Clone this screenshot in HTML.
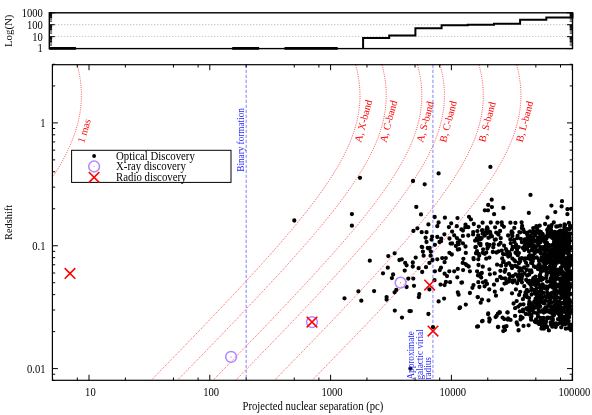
<!DOCTYPE html>
<html><head><meta charset="utf-8"><title>plot</title>
<style>html,body{margin:0;padding:0;background:#fff}svg{display:block}text{font-family:"Liberation Serif",serif;font-size:10.6px;fill:#000}.r{fill:#f00}.b{fill:#2828ff}</style></head><body>
<svg width="592" height="415" viewBox="0 0 592 415">
<rect width="592" height="415" fill="#fff"/>
<g style="opacity:0.999">
<line x1="49.3" y1="36.7" x2="572.5" y2="36.7" stroke="#000" stroke-width="0.6" stroke-dasharray="1 2" opacity="0.6"/>
<line x1="49.3" y1="24.7" x2="572.5" y2="24.7" stroke="#000" stroke-width="0.6" stroke-dasharray="1 2" opacity="0.6"/>
<line x1="49.3" y1="48.4" x2="572.5" y2="48.4" stroke="#000" stroke-width="0.6" stroke-dasharray="1 2" opacity="0.6"/>
<path d="M49.3 48.60h5.5M572.5 48.60h-5.5M49.3 45.01h2.8M572.5 45.01h-2.8M49.3 42.91h2.8M572.5 42.91h-2.8M49.3 41.42h2.8M572.5 41.42h-2.8M49.3 40.26h2.8M572.5 40.26h-2.8M49.3 39.31h2.8M572.5 39.31h-2.8M49.3 38.52h2.8M572.5 38.52h-2.8M49.3 37.82h2.8M572.5 37.82h-2.8M49.3 37.21h2.8M572.5 37.21h-2.8M49.3 36.67h5.5M572.5 36.67h-5.5M49.3 33.07h2.8M572.5 33.07h-2.8M49.3 30.97h2.8M572.5 30.97h-2.8M49.3 29.48h2.8M572.5 29.48h-2.8M49.3 28.33h2.8M572.5 28.33h-2.8M49.3 27.38h2.8M572.5 27.38h-2.8M49.3 26.58h2.8M572.5 26.58h-2.8M49.3 25.89h2.8M572.5 25.89h-2.8M49.3 25.28h2.8M572.5 25.28h-2.8M49.3 24.73h5.5M572.5 24.73h-5.5M49.3 21.14h2.8M572.5 21.14h-2.8M49.3 19.04h2.8M572.5 19.04h-2.8M49.3 17.55h2.8M572.5 17.55h-2.8M49.3 16.39h2.8M572.5 16.39h-2.8M49.3 15.45h2.8M572.5 15.45h-2.8M49.3 14.65h2.8M572.5 14.65h-2.8M49.3 13.96h2.8M572.5 13.96h-2.8M49.3 13.35h2.8M572.5 13.35h-2.8M49.3 12.80h6M572.5 12.80h-6" stroke="#000" stroke-width="1" fill="none"/>
<rect x="49.3" y="12.8" width="523.2" height="35.8" fill="none" stroke="#000" stroke-width="1.4"/>
<path d="M49.3 48.1H75.9M49.3 48.7H75.9M232.2 48.1H259.1M232.2 48.7H259.1M284.5 48.1H311.5M284.5 48.7H311.5M310.7 48.1H337.7M310.7 48.7H337.7M363.1 48.6V38.0H389.2V35.4H415.4V28.2H441.6V25.2H467.8V24.7H494.0V23.8H520.1V19.8H546.3V17.6H572.5V12.8" stroke="#000" stroke-width="2" fill="none" stroke-linejoin="miter"/>
<text text-anchor="end" transform="translate(42.9 52.4) scale(0.91 1)" style="font-size:11.66px">1</text>
<text text-anchor="end" transform="translate(42.9 40.5) scale(0.91 1)" style="font-size:11.66px">10</text>
<text text-anchor="end" transform="translate(42.9 28.5) scale(0.91 1)" style="font-size:11.66px">100</text>
<text text-anchor="end" transform="translate(42.9 16.6) scale(0.91 1)" style="font-size:11.66px">1000</text>
<text text-anchor="middle" transform="translate(11.7 30.8) rotate(-90) scale(1.03 1)" style="font-size:10.50px">Log(N)</text>
<clipPath id="c"><rect x="52.4" y="64.7" width="520.1" height="315.6"/></clipPath>
<path d="M151.0 380.5L154.5 377.0L157.9 373.4L161.4 369.8L164.8 366.3L168.3 362.7L171.7 359.2L175.2 355.6L178.6 352.1L182.0 348.5L185.5 345.0L188.9 341.4L192.3 337.9L195.7 334.3L199.2 330.8L202.6 327.2L206.0 323.7L209.4 320.1L212.7 316.6L216.1 313.0L219.5 309.4L222.9 305.9L226.2 302.3L229.6 298.8L232.9 295.2L236.2 291.7L239.6 288.1L242.9 284.6L246.2 281.0L249.4 277.5L252.7 273.9L256.0 270.4L259.2 266.8L262.4 263.3L265.6 259.7L268.8 256.1L272.0 252.6L275.1 249.0L278.2 245.5L281.3 241.9L284.4 238.4L287.4 234.8L290.4 231.3L293.4 227.7L296.3 224.2L299.3 220.6L302.1 217.1L305.0 213.5L307.8 210.0L310.5 206.4L313.2 202.9L315.9 199.3L318.5 195.7L321.1 192.2L323.6 188.6L326.0 185.1L328.4 181.5L330.7 178.0L333.0 174.4L335.2 170.9L337.3 167.3L339.4 163.8L341.3 160.2L343.2 156.7L345.0 153.1L346.7 149.6L348.3 146.0L349.9 142.5L351.3 138.9L352.6 135.3L353.9 131.8L355.0 128.2L356.0 124.7L356.9 121.1L357.7 117.6L358.3 114.0L358.9 110.5L359.3 106.9L359.7 103.4L359.9 99.8L360.0 96.3L359.9 92.7L359.8 89.2L359.5 85.6L359.1 82.1L358.6 78.5L358.0 74.9L357.3 71.4L356.5 67.8L355.6 64.3M177.3 380.5L180.7 377.0L184.2 373.4L187.6 369.8L191.1 366.3L194.5 362.7L198.0 359.2L201.4 355.6L204.9 352.1L208.3 348.5L211.7 345.0L215.2 341.4L218.6 337.9L222.0 334.3L225.4 330.8L228.8 327.2L232.2 323.7L235.6 320.1L239.0 316.6L242.4 313.0L245.8 309.4L249.1 305.9L252.5 302.3L255.8 298.8L259.2 295.2L262.5 291.7L265.8 288.1L269.1 284.6L272.4 281.0L275.7 277.5L279.0 273.9L282.2 270.4L285.5 266.8L288.7 263.3L291.9 259.7L295.1 256.1L298.2 252.6L301.4 249.0L304.5 245.5L307.6 241.9L310.6 238.4L313.7 234.8L316.7 231.3L319.7 227.7L322.6 224.2L325.5 220.6L328.4 217.1L331.2 213.5L334.0 210.0L336.8 206.4L339.5 202.9L342.2 199.3L344.8 195.7L347.3 192.2L349.9 188.6L352.3 185.1L354.7 181.5L357.0 178.0L359.3 174.4L361.5 170.9L363.6 167.3L365.6 163.8L367.6 160.2L369.5 156.7L371.3 153.1L373.0 149.6L374.6 146.0L376.1 142.5L377.6 138.9L378.9 135.3L380.1 131.8L381.2 128.2L382.3 124.7L383.2 121.1L383.9 117.6L384.6 114.0L385.2 110.5L385.6 106.9L385.9 103.4L386.1 99.8L386.2 96.3L386.2 92.7L386.1 89.2L385.8 85.6L385.4 82.1L384.9 78.5L384.3 74.9L383.6 71.4L382.8 67.8L381.8 64.3M212.8 380.5L216.3 377.0L219.8 373.4L223.2 369.8L226.7 366.3L230.1 362.7L233.6 359.2L237.0 355.6L240.4 352.1L243.9 348.5L247.3 345.0L250.7 341.4L254.2 337.9L257.6 334.3L261.0 330.8L264.4 327.2L267.8 323.7L271.2 320.1L274.6 316.6L278.0 313.0L281.3 309.4L284.7 305.9L288.1 302.3L291.4 298.8L294.8 295.2L298.1 291.7L301.4 288.1L304.7 284.6L308.0 281.0L311.3 277.5L314.5 273.9L317.8 270.4L321.0 266.8L324.2 263.3L327.4 259.7L330.6 256.1L333.8 252.6L336.9 249.0L340.0 245.5L343.1 241.9L346.2 238.4L349.2 234.8L352.3 231.3L355.2 227.7L358.2 224.2L361.1 220.6L364.0 217.1L366.8 213.5L369.6 210.0L372.4 206.4L375.1 202.9L377.7 199.3L380.3 195.7L382.9 192.2L385.4 188.6L387.9 185.1L390.3 181.5L392.6 178.0L394.8 174.4L397.0 170.9L399.2 167.3L401.2 163.8L403.2 160.2L405.1 156.7L406.8 153.1L408.6 149.6L410.2 146.0L411.7 142.5L413.1 138.9L414.5 135.3L415.7 131.8L416.8 128.2L417.8 124.7L418.7 121.1L419.5 117.6L420.2 114.0L420.7 110.5L421.2 106.9L421.5 103.4L421.7 99.8L421.8 96.3L421.8 92.7L421.6 89.2L421.4 85.6L421.0 82.1L420.5 78.5L419.9 74.9L419.1 71.4L418.3 67.8L417.4 64.3M235.4 380.5L238.9 377.0L242.4 373.4L245.8 369.8L249.3 366.3L252.7 362.7L256.2 359.2L259.6 355.6L263.0 352.1L266.5 348.5L269.9 345.0L273.3 341.4L276.8 337.9L280.2 334.3L283.6 330.8L287.0 327.2L290.4 323.7L293.8 320.1L297.2 316.6L300.6 313.0L303.9 309.4L307.3 305.9L310.7 302.3L314.0 298.8L317.4 295.2L320.7 291.7L324.0 288.1L327.3 284.6L330.6 281.0L333.9 277.5L337.1 273.9L340.4 270.4L343.6 266.8L346.8 263.3L350.0 259.7L353.2 256.1L356.4 252.6L359.5 249.0L362.6 245.5L365.7 241.9L368.8 238.4L371.8 234.8L374.9 231.3L377.8 227.7L380.8 224.2L383.7 220.6L386.6 217.1L389.4 213.5L392.2 210.0L395.0 206.4L397.7 202.9L400.3 199.3L402.9 195.7L405.5 192.2L408.0 188.6L410.5 185.1L412.9 181.5L415.2 178.0L417.4 174.4L419.6 170.9L421.8 167.3L423.8 163.8L425.8 160.2L427.7 156.7L429.4 153.1L431.2 149.6L432.8 146.0L434.3 142.5L435.7 138.9L437.1 135.3L438.3 131.8L439.4 128.2L440.4 124.7L441.3 121.1L442.1 117.6L442.8 114.0L443.3 110.5L443.8 106.9L444.1 103.4L444.3 99.8L444.4 96.3L444.4 92.7L444.2 89.2L444.0 85.6L443.6 82.1L443.1 78.5L442.5 74.9L441.7 71.4L440.9 67.8L440.0 64.3M274.4 380.5L277.8 377.0L281.3 373.4L284.7 369.8L288.2 366.3L291.6 362.7L295.1 359.2L298.5 355.6L302.0 352.1L305.4 348.5L308.8 345.0L312.3 341.4L315.7 337.9L319.1 334.3L322.5 330.8L325.9 327.2L329.3 323.7L332.7 320.1L336.1 316.6L339.5 313.0L342.9 309.4L346.2 305.9L349.6 302.3L352.9 298.8L356.3 295.2L359.6 291.7L362.9 288.1L366.2 284.6L369.5 281.0L372.8 277.5L376.1 273.9L379.3 270.4L382.6 266.8L385.8 263.3L389.0 259.7L392.2 256.1L395.3 252.6L398.5 249.0L401.6 245.5L404.7 241.9L407.7 238.4L410.8 234.8L413.8 231.3L416.8 227.7L419.7 224.2L422.6 220.6L425.5 217.1L428.3 213.5L431.1 210.0L433.9 206.4L436.6 202.9L439.3 199.3L441.9 195.7L444.4 192.2L446.9 188.6L449.4 185.1L451.8 181.5L454.1 178.0L456.4 174.4L458.6 170.9L460.7 167.3L462.7 163.8L464.7 160.2L466.6 156.7L468.4 153.1L470.1 149.6L471.7 146.0L473.2 142.5L474.7 138.9L476.0 135.3L477.2 131.8L478.3 128.2L479.3 124.7L480.2 121.1L481.0 117.6L481.7 114.0L482.3 110.5L482.7 106.9L483.0 103.4L483.2 99.8L483.3 96.3L483.3 92.7L483.1 89.2L482.9 85.6L482.5 82.1L482.0 78.5L481.4 74.9L480.7 71.4L479.8 67.8L478.9 64.3M312.0 380.5L315.4 377.0L318.9 373.4L322.3 369.8L325.8 366.3L329.2 362.7L332.7 359.2L336.1 355.6L339.6 352.1L343.0 348.5L346.4 345.0L349.9 341.4L353.3 337.9L356.7 334.3L360.1 330.8L363.5 327.2L366.9 323.7L370.3 320.1L373.7 316.6L377.1 313.0L380.5 309.4L383.8 305.9L387.2 302.3L390.5 298.8L393.9 295.2L397.2 291.7L400.5 288.1L403.8 284.6L407.1 281.0L410.4 277.5L413.7 273.9L416.9 270.4L420.2 266.8L423.4 263.3L426.6 259.7L429.8 256.1L432.9 252.6L436.1 249.0L439.2 245.5L442.3 241.9L445.3 238.4L448.4 234.8L451.4 231.3L454.4 227.7L457.3 224.2L460.2 220.6L463.1 217.1L465.9 213.5L468.7 210.0L471.5 206.4L474.2 202.9L476.9 199.3L479.5 195.7L482.0 192.2L484.5 188.6L487.0 185.1L489.4 181.5L491.7 178.0L494.0 174.4L496.2 170.9L498.3 167.3L500.3 163.8L502.3 160.2L504.2 156.7L506.0 153.1L507.7 149.6L509.3 146.0L510.8 142.5L512.3 138.9L513.6 135.3L514.8 131.8L515.9 128.2L516.9 124.7L517.8 121.1L518.6 117.6L519.3 114.0L519.9 110.5L520.3 106.9L520.6 103.4L520.8 99.8L520.9 96.3L520.9 92.7L520.7 89.2L520.5 85.6L520.1 82.1L519.6 78.5L519.0 74.9L518.3 71.4L517.4 67.8L516.5 64.3M-127.6 380.5L-124.1 377.0L-120.6 373.4L-117.2 369.8L-113.7 366.3L-110.3 362.7L-106.8 359.2L-103.4 355.6L-100.0 352.1L-96.5 348.5L-93.1 345.0L-89.7 341.4L-86.2 337.9L-82.8 334.3L-79.4 330.8L-76.0 327.2L-72.6 323.7L-69.2 320.1L-65.8 316.6L-62.4 313.0L-59.1 309.4L-55.7 305.9L-52.3 302.3L-49.0 298.8L-45.6 295.2L-42.3 291.7L-39.0 288.1L-35.7 284.6L-32.4 281.0L-29.1 277.5L-25.9 273.9L-22.6 270.4L-19.4 266.8L-16.1 263.3L-12.9 259.7L-9.8 256.1L-6.6 252.6L-3.5 249.0L-0.4 245.5L2.7 241.9L5.8 238.4L8.8 234.8L11.9 231.3L14.8 227.7L17.8 224.2L20.7 220.6L23.6 217.1L26.4 213.5L29.2 210.0L32.0 206.4L34.7 202.9L37.3 199.3L39.9 195.7L42.5 192.2L45.0 188.6L47.5 185.1L49.9 181.5L52.2 178.0L54.4 174.4L56.6 170.9L58.8 167.3L60.8 163.8L62.8 160.2L64.7 156.7L66.5 153.1L68.2 149.6L69.8 146.0L71.3 142.5L72.7 138.9L74.1 135.3L75.3 131.8L76.4 128.2L77.4 124.7L78.3 121.1L79.1 117.6L79.8 114.0L80.3 110.5L80.8 106.9L81.1 103.4L81.3 99.8L81.4 96.3L81.4 92.7L81.2 89.2L81.0 85.6L80.6 82.1L80.1 78.5L79.5 74.9L78.7 71.4L77.9 67.8L77.0 64.3" fill="none" stroke="#ff1010" stroke-width="0.9" stroke-dasharray="1.0 1.24" clip-path="url(#c)" opacity="0.8"/>
<line x1="246.2" y1="64.7" x2="246.2" y2="380.3" stroke="#9494ff" stroke-width="1.15" stroke-dasharray="3.2 1.8"/>
<line x1="432.9" y1="64.7" x2="432.9" y2="380.3" stroke="#9494ff" stroke-width="1.15" stroke-dasharray="3.2 1.8"/>
<path d="M294.3 220.5h0M360.0 177.8h0M351.9 214.1h0M351.9 225.7h0M413.0 181.0h0M424.7 184.3h0M438.6 173.4h0M416.3 206.9h0M421.0 214.4h0M434.7 217.0h0M444.9 217.7h0M457.5 218.1h0M469.0 216.8h0M470.9 219.4h0M438.6 222.5h0M428.4 224.4h0M451.2 223.3h0M473.8 224.0h0M465.5 224.6h0M456.8 226.2h0M437.3 226.2h0M468.3 227.2h0M417.4 228.3h0M413.4 230.9h0M461.4 229.4h0M462.9 230.5h0M452.1 231.6h0M421.7 232.2h0M426.5 232.2h0M454.2 235.3h0M462.9 235.9h0M468.3 235.5h0M473.1 234.4h0M478.3 237.0h0M432.1 236.6h0M437.3 237.0h0M425.6 237.7h0M449.5 238.5h0M441.2 238.7h0M431.5 239.6h0M426.5 242.0h0M439.5 242.0h0M459.7 240.7h0M452.1 243.5h0M458.6 244.2h0M479.2 243.5h0M421.7 246.8h0M427.8 247.9h0M429.7 247.9h0M475.9 246.8h0M490.4 166.9h0M530.5 194.9h0M491.7 199.7h0M562.0 201.2h0M488.2 204.9h0M491.9 207.1h0M551.4 205.6h0M561.6 206.4h0M503.4 207.9h0M484.8 210.3h0M488.0 210.3h0M567.4 209.2h0M571.0 208.8h0M528.8 212.9h0M555.3 212.1h0M494.1 214.2h0M567.4 214.2h0M547.5 217.5h0M482.6 222.7h0M490.8 222.5h0M497.4 222.7h0M501.7 222.3h0M510.4 222.7h0M515.4 222.9h0M521.6 222.3h0M553.8 222.3h0M568.9 222.9h0M545.1 224.0h0M502.1 225.1h0M536.4 226.2h0M539.7 225.7h0M551.6 225.1h0M560.3 225.7h0M344.5 298.3h0M358.4 291.3h0M361.3 300.7h0M369.8 260.7h0M374.1 291.1h0M383.0 273.3h0M387.8 267.7h0M388.3 256.1h0M394.6 253.3h0M393.1 274.5h0M391.9 278.1h0M386.6 297.1h0M386.6 299.5h0M396.3 289.9h0M394.6 292.3h0M394.8 310.6h0M402.0 317.6h0M399.4 260.0h0M401.8 259.3h0M405.2 262.9h0M406.6 265.3h0M404.7 270.6h0M408.3 278.6h0M406.6 287.0h0M409.5 311.1h0M412.8 262.4h0M412.8 266.5h0M415.7 257.6h0M418.6 268.2h0M422.2 272.0h0M426.0 267.2h0M422.2 247.2h0M422.9 251.6h0M423.6 255.7h0M426.5 241.9h0M428.4 248.4h0M430.8 251.6h0M430.6 255.7h0M432.5 260.0h0M429.4 262.9h0M434.9 244.8h0M441.0 241.2h0M437.3 259.3h0M442.2 258.1h0M445.8 258.1h0M444.6 262.2h0M449.4 252.8h0M451.8 254.5h0M450.6 243.6h0M457.8 242.4h0M457.8 249.6h0M465.5 246.5h0M475.4 247.2h0M475.9 253.3h0M473.5 258.1h0M478.3 259.3h0M463.4 258.8h0M462.7 262.9h0M465.5 264.1h0M468.7 266.5h0M463.1 270.1h0M457.8 268.9h0M454.2 271.3h0M457.3 277.3h0M469.9 271.3h0M477.1 271.3h0M434.9 271.3h0M439.8 270.1h0M441.0 267.7h0M444.6 273.7h0M447.0 276.1h0M450.1 282.2h0M461.4 282.7h0M440.5 284.6h0M444.6 285.1h0M434.5 280.2h0M429.4 289.4h0M419.3 294.2h0M418.8 297.1h0M438.6 301.4h0M444.1 298.6h0M457.8 292.3h0M458.6 294.7h0M469.9 293.0h0M473.5 285.1h0M478.3 282.2h0M477.6 297.1h0M465.8 304.6h0M459.5 308.2h0M410.8 311.1h0M428.4 314.0h0M433.0 327.2h0M477.1 326.7h0M414.0 285.8h0M413.3 278.6h0M460.1 307.4h0M478.0 326.4h0M482.0 321.3h0M488.1 314.2h0M489.8 319.6h0M496.6 315.9h0M499.9 312.5h0M507.7 312.5h0M498.2 327.0h0M503.3 331.1h0M505.7 326.4h0M507.7 319.6h0M516.8 323.0h0M518.5 330.4h0M515.1 315.9h0M528.6 325.3h0M535.4 322.0h0M543.9 328.7h0M548.9 330.4h0M555.7 327.0h0M565.8 328.7h0M570.6 329.7h0M479.4 287.0h0M484.6 286.3h0M487.0 283.9h0M489.3 289.4h0M494.0 284.7h0M494.8 291.7h0M496.0 295.7h0M501.8 289.4h0M477.9 297.2h0M482.0 299.6h0M480.7 302.7h0M488.5 300.4h0M512.0 293.3h0M515.9 289.4h0M519.1 294.9h0M508.9 281.6h0M512.8 282.3h0M483.0 282.3h0M513.6 303.5h0M516.7 301.1h0M515.1 308.2h0M518.3 306.6h0M519.8 311.3h0M488.2 313.4h0M499.5 312.1h0M497.9 313.7h0M507.3 312.4h0M495.6 317.1h0M489.3 318.4h0M489.3 321.5h0M482.6 321.0h0M477.6 326.5h0M502.6 317.6h0M504.2 319.1h0M508.1 318.4h0M510.5 319.9h0M516.7 322.3h0M517.5 324.6h0M497.9 327.0h0M503.9 327.0h0M506.5 326.2h0M505.0 330.1h0M518.6 330.1h0M410.4 368.6h0M490.2 232.2h0M479.2 255.7h0M478.6 254.0h0M495.1 227.3h0M494.7 273.4h0M478.0 275.4h0M482.3 230.2h0M511.9 234.0h0M504.1 245.7h0M478.8 226.6h0M505.9 249.1h0M501.8 250.6h0M511.0 265.6h0M482.7 252.8h0M505.4 269.6h0M514.5 242.1h0M502.2 258.4h0M513.0 280.6h0M504.5 283.6h0M488.5 246.5h0M477.0 251.2h0M481.7 238.1h0M514.3 227.9h0M500.2 276.9h0M514.0 240.0h0M482.6 233.7h0M486.3 252.6h0M506.4 254.4h0M510.3 276.3h0M493.3 247.3h0M503.9 226.8h0M485.2 232.9h0M480.5 245.2h0M514.5 260.5h0M487.1 244.2h0M496.5 252.5h0M480.5 243.9h0M512.5 232.8h0M517.8 255.2h0M519.1 275.7h0M487.5 245.4h0M510.0 255.5h0M519.3 275.0h0M512.0 268.1h0M498.8 244.7h0M477.2 240.0h0M506.5 281.3h0M517.2 283.3h0M492.0 236.4h0M484.7 235.5h0M515.6 274.3h0M504.7 271.8h0M505.1 278.5h0M509.0 252.2h0M510.7 243.3h0M518.8 247.1h0M517.7 267.2h0M511.5 231.9h0M519.1 263.1h0M500.1 231.0h0M518.7 262.6h0M517.1 249.5h0M512.4 235.9h0M488.9 237.7h0M487.4 248.6h0M516.0 244.6h0M501.7 278.2h0M516.4 253.6h0M500.5 242.9h0M500.4 270.8h0M500.7 238.2h0M510.0 254.0h0M509.4 278.7h0M503.0 253.8h0M506.5 250.6h0M497.0 280.4h0M514.6 280.5h0M482.0 230.4h0M479.2 237.7h0M482.8 266.7h0M485.7 281.1h0M483.1 249.3h0M490.9 234.9h0M503.5 254.2h0M519.3 271.1h0M480.6 239.2h0M510.3 239.5h0M501.1 265.7h0M478.5 265.0h0M478.9 275.6h0M487.8 230.9h0M486.5 229.7h0M478.2 235.3h0M489.4 269.3h0M498.0 233.9h0M476.8 238.3h0M508.3 256.6h0M496.9 280.0h0M512.0 249.4h0M512.7 247.0h0M506.3 282.9h0M512.6 266.1h0M493.8 244.2h0M487.2 233.0h0M513.0 276.1h0M488.4 237.8h0M496.2 232.6h0M489.6 244.8h0M492.8 252.0h0M484.8 253.8h0M487.6 228.5h0M486.2 258.7h0M509.0 263.1h0M514.7 246.8h0M519.3 232.1h0M515.2 261.3h0M511.7 231.5h0M512.4 258.6h0M506.0 265.3h0M477.4 231.1h0M480.6 274.0h0M503.6 261.2h0M508.9 253.7h0M487.1 227.5h0M508.1 235.5h0M518.9 253.1h0M497.1 264.7h0M503.1 262.2h0M489.4 257.6h0M506.5 264.2h0M498.7 251.3h0M481.2 277.5h0M519.0 280.1h0M495.8 239.4h0M517.6 235.9h0M481.8 273.0h0M515.0 265.9h0M515.5 252.7h0M476.2 253.0h0M489.3 231.6h0M489.9 274.3h0M509.0 274.2h0M516.8 266.5h0M488.8 245.7h0M519.9 258.9h0M494.8 239.8h0M480.5 273.9h0M517.2 238.2h0M498.5 234.6h0M518.1 276.9h0M462.0 282.5h0M473.7 259.2h0M465.3 227.2h0M465.8 252.9h0M466.6 265.2h0M448.9 227.1h0M473.2 232.1h0M455.9 246.0h0M449.3 271.3h0M475.1 240.7h0M462.9 243.3h0M459.2 249.2h0M444.4 234.3h0M445.9 282.0h0M456.9 238.1h0M472.4 287.8h0M542.9 237.5h0M524.6 260.0h0M565.2 305.2h0M541.1 280.2h0M537.2 228.9h0M569.4 236.0h0M552.1 317.8h0M564.5 224.4h0M567.3 313.6h0M569.6 249.6h0M568.0 302.1h0M559.0 272.8h0M566.9 293.7h0M555.6 234.4h0M546.7 286.7h0M531.4 288.7h0M552.9 320.1h0M555.9 256.1h0M545.4 296.9h0M541.4 297.8h0M560.7 304.0h0M561.8 247.6h0M545.3 242.8h0M527.5 265.7h0M569.7 237.8h0M567.5 258.5h0M567.7 304.8h0M553.9 264.0h0M536.9 240.8h0M539.0 324.1h0M538.6 321.6h0M522.1 225.9h0M566.9 250.5h0M565.8 259.6h0M568.8 290.5h0M556.5 257.1h0M552.3 326.7h0M568.6 264.9h0M562.0 307.8h0M536.7 257.5h0M559.9 230.8h0M558.4 249.5h0M533.5 231.3h0M545.4 300.8h0M535.0 284.9h0M557.6 244.1h0M549.5 258.2h0M570.6 278.3h0M562.9 323.5h0M535.0 235.2h0M569.6 286.7h0M531.1 262.9h0M553.2 244.6h0M536.7 297.3h0M548.0 229.0h0M540.9 253.4h0M568.6 256.7h0M570.8 262.4h0M557.1 244.6h0M566.0 269.0h0M552.7 323.0h0M551.7 263.2h0M567.2 234.1h0M562.1 239.8h0M562.3 242.3h0M540.4 279.5h0M552.0 256.0h0M542.8 270.7h0M551.6 276.3h0M558.9 308.6h0M529.2 274.5h0M526.6 269.8h0M542.5 278.6h0M559.7 278.8h0M557.3 312.5h0M570.1 276.6h0M566.7 240.3h0M567.5 229.3h0M534.0 312.5h0M545.6 324.1h0M533.4 278.2h0M521.9 242.2h0M567.8 297.4h0M528.6 309.1h0M547.1 292.6h0M564.5 283.6h0M538.4 306.9h0M529.0 304.5h0M561.8 250.2h0M570.2 287.0h0M546.1 321.4h0M531.6 294.5h0M520.1 261.4h0M532.4 238.6h0M540.5 251.3h0M552.9 284.4h0M528.9 256.3h0M543.1 247.1h0M556.3 251.5h0M531.1 319.7h0M568.2 304.8h0M564.9 258.5h0M566.3 292.0h0M537.6 237.7h0M555.5 303.8h0M561.8 320.9h0M525.5 244.8h0M552.3 313.6h0M534.7 233.1h0M558.6 244.8h0M534.4 301.4h0M563.4 290.6h0M531.0 317.7h0M561.8 240.9h0M560.6 242.5h0M537.7 314.3h0M568.1 253.5h0M555.7 277.3h0M555.6 309.3h0M538.1 266.5h0M566.0 277.6h0M565.1 247.9h0M553.0 260.7h0M557.8 240.8h0M559.4 286.3h0M543.6 320.2h0M563.0 239.2h0M528.2 258.4h0M569.7 302.9h0M569.1 233.3h0M570.2 310.2h0M555.4 277.6h0M564.9 307.9h0M563.5 297.4h0M556.4 291.9h0M521.9 282.3h0M556.6 278.9h0M562.3 279.9h0M568.3 245.3h0M540.0 306.7h0M570.2 261.5h0M534.0 266.4h0M538.0 251.4h0M561.3 292.4h0M561.6 274.0h0M538.1 316.4h0M539.2 250.1h0M534.3 249.2h0M566.2 309.0h0M562.4 292.3h0M532.8 233.3h0M531.9 308.2h0M560.2 315.1h0M533.5 248.0h0M547.5 317.8h0M562.9 273.9h0M553.9 315.3h0M541.4 328.6h0M552.5 292.6h0M544.7 321.6h0M556.6 291.4h0M563.9 262.6h0M546.8 307.5h0M540.6 277.9h0M560.4 258.7h0M565.2 282.5h0M567.0 289.6h0M550.4 297.6h0M525.2 242.1h0M548.7 250.6h0M541.5 257.4h0M552.7 325.7h0M548.9 226.4h0M544.2 267.8h0M552.9 245.6h0M564.3 236.3h0M569.2 301.6h0M542.4 297.1h0M560.7 262.3h0M552.1 268.4h0M548.9 254.5h0M569.7 300.1h0M562.4 288.7h0M561.2 253.4h0M561.6 320.5h0M560.7 244.2h0M567.5 248.0h0M554.6 273.7h0M559.4 247.8h0M565.7 320.2h0M544.3 287.4h0M538.5 284.7h0M546.4 238.5h0M570.9 263.5h0M552.3 309.4h0M550.5 260.3h0M564.2 276.0h0M568.3 307.2h0M569.1 250.2h0M530.3 242.1h0M554.2 265.6h0M567.9 297.1h0M550.2 306.1h0M536.5 250.5h0M544.5 240.7h0M527.3 297.2h0M556.6 243.7h0M564.2 320.6h0M563.0 291.7h0M552.0 237.8h0M541.0 239.3h0M562.8 259.1h0M565.6 296.2h0M544.4 253.8h0M570.9 324.7h0M534.8 321.5h0M546.9 242.6h0M566.5 246.2h0M556.3 243.8h0M556.1 312.1h0M540.8 302.1h0M564.1 276.7h0M566.4 274.9h0M538.7 240.1h0M542.7 279.2h0M536.4 300.9h0M568.7 276.9h0M547.1 281.6h0M569.3 246.8h0M545.5 253.0h0M563.9 238.3h0M567.8 265.2h0M562.8 280.3h0M568.0 308.2h0M570.0 311.3h0M561.6 316.1h0M538.6 280.9h0M542.1 278.0h0M567.8 292.3h0M565.1 320.2h0M551.7 249.8h0M535.6 293.9h0M527.6 235.8h0M535.0 267.1h0M562.8 289.7h0M543.9 256.5h0M564.0 248.5h0M535.1 307.7h0M557.5 234.1h0M568.9 304.0h0M556.1 323.5h0M564.5 289.4h0M563.3 277.5h0M529.4 255.7h0M549.3 286.6h0M566.9 257.9h0M541.7 323.1h0M566.9 307.9h0M570.9 279.4h0M554.9 265.2h0M554.5 280.3h0M570.8 260.1h0M561.6 241.0h0M569.9 313.7h0M541.5 239.4h0M546.1 278.0h0M535.6 298.7h0M554.1 243.8h0M541.0 235.5h0M558.7 233.8h0M551.3 311.5h0M556.5 261.3h0M549.7 260.7h0M551.6 249.7h0M567.5 316.9h0M565.8 312.6h0M568.4 249.0h0M556.6 246.6h0M564.6 275.8h0M532.4 241.3h0M548.6 234.8h0M539.7 266.8h0M532.5 243.2h0M561.1 239.7h0M531.6 272.2h0M550.0 262.8h0M533.8 307.7h0M553.5 285.0h0M539.9 231.6h0M563.4 257.6h0M545.5 255.0h0M535.9 247.1h0M556.6 253.3h0M566.4 308.0h0M563.9 236.7h0M538.0 291.8h0M556.3 226.5h0M528.3 244.0h0M549.1 301.5h0M542.2 298.0h0M551.0 227.3h0M566.6 305.2h0M562.3 253.2h0M568.3 269.1h0M552.0 272.3h0M555.6 269.5h0M567.3 236.2h0M552.5 282.4h0M530.3 256.5h0M556.1 296.4h0M567.7 261.0h0M565.1 237.7h0M558.8 240.8h0M562.4 234.7h0M538.4 244.9h0M542.8 234.5h0M543.9 262.3h0M570.0 284.6h0M544.9 270.2h0M553.3 249.9h0M562.8 254.9h0M557.9 258.3h0M562.1 257.5h0M545.5 239.5h0M529.7 302.2h0M546.2 268.8h0M566.1 240.3h0M542.6 284.5h0M530.0 231.4h0M551.6 312.0h0M554.5 289.6h0M553.0 255.2h0M565.1 225.1h0M554.6 271.7h0M553.7 263.3h0M540.2 234.7h0M565.4 282.8h0M564.0 250.1h0M547.1 249.9h0M548.3 247.1h0M524.1 267.3h0M556.4 306.0h0M570.5 302.1h0M562.3 265.5h0M569.0 284.5h0M527.0 308.2h0M532.1 263.3h0M550.3 245.7h0M566.8 318.7h0M554.7 313.6h0M562.7 286.5h0M529.4 283.5h0M555.0 264.3h0M564.6 281.8h0M561.2 327.3h0M564.5 310.9h0M540.0 274.8h0M551.2 230.4h0M543.9 286.1h0M570.3 227.0h0M554.2 252.3h0M564.5 307.9h0M552.4 262.3h0M557.7 278.5h0M537.9 283.1h0M570.4 275.4h0M532.4 248.1h0M535.4 240.8h0M567.0 286.8h0M538.2 308.0h0M564.3 229.5h0M565.9 252.6h0M555.9 246.2h0M569.1 288.7h0M561.3 319.2h0M545.2 288.4h0M551.3 302.4h0M524.8 239.3h0M536.9 304.3h0M568.0 236.6h0M558.6 232.0h0M538.6 238.6h0M557.6 324.3h0M570.1 277.4h0M536.5 322.3h0M540.5 317.9h0M568.2 291.6h0M531.0 285.2h0M564.0 318.5h0M558.3 313.3h0M559.8 317.8h0M557.5 232.8h0M554.8 232.0h0M566.8 301.5h0M570.0 225.7h0M560.4 298.5h0M545.7 247.7h0M536.1 319.5h0M544.9 237.1h0M529.1 298.1h0M557.6 277.6h0M565.0 303.2h0M529.0 251.4h0M548.4 262.2h0M555.1 294.5h0M564.6 301.7h0M539.7 264.8h0M551.0 324.8h0M551.2 263.8h0M560.0 322.8h0M555.4 258.0h0M539.3 301.1h0M531.4 290.0h0M566.3 274.5h0M546.6 274.9h0M565.6 318.3h0M526.3 239.1h0M546.6 272.3h0M558.7 238.6h0M538.7 279.8h0M538.9 259.8h0M534.0 258.0h0M562.5 232.1h0M563.8 244.4h0M560.4 290.6h0M556.3 254.8h0M553.1 312.0h0M539.0 295.9h0M562.1 296.4h0M526.0 246.5h0M561.7 233.3h0M558.4 284.6h0M554.7 300.9h0M564.5 238.2h0M534.0 251.1h0M546.1 268.6h0M563.7 250.5h0M538.7 311.0h0M566.9 283.7h0M536.0 281.2h0M548.8 257.9h0M560.6 254.4h0M560.9 287.7h0M567.7 271.4h0M522.5 317.8h0M548.6 310.9h0M554.4 296.9h0M530.8 315.1h0M566.8 245.0h0M541.1 295.1h0M566.2 298.1h0M522.9 299.2h0M562.6 254.6h0M549.7 257.4h0M562.9 238.9h0M570.0 265.5h0M539.4 293.1h0M547.8 232.4h0M557.1 269.7h0M525.8 314.0h0M546.8 254.3h0M550.5 282.0h0M532.6 304.4h0M560.2 255.1h0M548.5 232.6h0M560.2 288.1h0M521.7 279.0h0M553.0 236.6h0M544.5 238.5h0M564.8 235.0h0M547.3 235.1h0M538.7 243.9h0M530.4 236.1h0M560.3 285.3h0M531.7 305.3h0M524.3 286.2h0M555.3 312.4h0M540.8 231.8h0M557.4 297.3h0M537.6 237.6h0M570.9 309.9h0M558.3 292.6h0M562.5 311.0h0M547.1 327.0h0M569.4 309.4h0M562.8 247.8h0M543.4 248.3h0M566.3 298.1h0M562.6 259.7h0M562.7 310.0h0M561.4 268.5h0M543.3 259.2h0M534.9 231.8h0M555.8 271.1h0M561.2 235.4h0M565.6 265.8h0M529.7 314.2h0M568.2 272.5h0M532.8 261.1h0M548.2 317.7h0M553.7 292.1h0M565.4 302.9h0M521.8 258.1h0M568.6 320.9h0M550.0 286.0h0M534.3 306.6h0M555.2 252.8h0M564.7 240.0h0M528.7 256.6h0M569.1 242.8h0M568.1 243.9h0M542.4 234.0h0M559.7 256.9h0M558.6 274.2h0M554.2 305.5h0M534.7 292.0h0M533.5 249.0h0M541.0 311.7h0M566.0 236.8h0M563.4 296.1h0M540.6 285.7h0M557.9 313.1h0M564.8 236.6h0M555.9 290.0h0M533.9 245.7h0M560.9 261.9h0M520.2 291.8h0M548.3 311.6h0M562.2 234.3h0M552.1 259.8h0M549.8 266.4h0M570.8 311.3h0M544.4 236.8h0M554.8 300.6h0M537.4 243.1h0M546.3 270.7h0M555.9 243.8h0M556.8 301.9h0M556.8 292.0h0M570.6 255.9h0M561.0 272.5h0M545.9 245.2h0M562.9 236.9h0M547.2 229.9h0M552.6 244.8h0M566.2 264.5h0M550.2 236.0h0M556.1 270.8h0M550.6 229.0h0M570.3 247.4h0M560.2 313.4h0M557.8 226.3h0M569.8 311.1h0M552.6 324.0h0M529.5 311.6h0M565.4 323.7h0M563.4 283.7h0M560.8 230.6h0M547.8 254.3h0M520.4 304.7h0M562.3 312.1h0M526.2 294.2h0M547.9 261.1h0M558.9 238.4h0M569.9 307.3h0M550.5 279.7h0M566.7 303.3h0M566.6 314.9h0M542.0 319.5h0M568.1 271.0h0M532.9 255.4h0M570.0 294.6h0M558.4 252.4h0M565.2 324.2h0M560.5 281.1h0M562.1 256.8h0M524.6 245.6h0M558.0 305.6h0M552.8 287.6h0M550.5 299.1h0M523.3 229.4h0M538.4 237.8h0M533.9 307.4h0M554.2 252.8h0M553.6 287.2h0M529.2 237.9h0M570.1 264.5h0M549.1 246.8h0M520.8 316.6h0M569.1 262.4h0M527.1 309.5h0M538.7 280.1h0M532.7 310.4h0M539.4 306.9h0M562.7 248.1h0M542.4 234.9h0M556.3 232.4h0M544.5 241.3h0M542.5 235.1h0M548.3 229.9h0M569.1 317.2h0M568.1 280.3h0M543.5 303.2h0M543.1 257.3h0M553.8 262.1h0M570.2 275.5h0M547.4 248.0h0M550.9 294.3h0M566.0 231.1h0M521.8 270.7h0M567.9 266.6h0M531.0 314.6h0M571.0 272.7h0M569.0 257.7h0M537.5 296.2h0M527.0 248.7h0M569.0 238.6h0M522.9 248.0h0M549.9 272.2h0M565.3 295.4h0M561.2 294.5h0M569.1 243.4h0M565.8 285.3h0M555.3 250.4h0M556.2 293.9h0M568.9 309.2h0M531.9 303.6h0M553.8 307.1h0M531.4 245.9h0M568.1 286.0h0M555.9 270.5h0M559.1 314.7h0M530.0 307.0h0M563.3 319.1h0M557.0 252.2h0M533.2 228.1h0M557.2 259.9h0M539.6 301.6h0M560.7 311.0h0M561.0 309.8h0M525.5 292.4h0M533.3 239.5h0M559.3 313.8h0M568.9 310.2h0M536.1 302.1h0M551.1 231.9h0M564.7 273.3h0M559.5 233.8h0M539.7 275.7h0M554.1 246.6h0M567.6 290.7h0M543.2 292.7h0M559.3 270.5h0M526.9 233.8h0M541.7 259.5h0M550.8 254.0h0M556.5 303.5h0M561.5 259.6h0M564.0 285.8h0M568.6 258.3h0M561.8 251.5h0M539.1 261.2h0M558.5 312.2h0M563.2 319.6h0M567.9 304.6h0M547.9 272.6h0M530.9 259.8h0M525.1 258.3h0M560.6 247.2h0M523.5 304.3h0M568.7 256.4h0M549.2 233.8h0M562.3 279.6h0M568.9 299.2h0M542.1 301.6h0M560.2 261.6h0M558.0 311.0h0M530.3 255.5h0M557.3 242.7h0M545.5 296.2h0M567.6 284.2h0M552.2 311.2h0M550.7 250.8h0M541.4 279.0h0M556.6 305.1h0M533.0 279.4h0M550.7 322.4h0M556.3 300.9h0M562.8 324.7h0M568.2 271.1h0M570.9 259.3h0M532.5 244.1h0M540.9 290.6h0M528.3 246.3h0M569.6 276.0h0M527.4 240.8h0M538.1 269.2h0M555.2 265.5h0M564.1 285.6h0M563.3 302.9h0M560.3 287.5h0M540.5 242.2h0M565.8 310.9h0M544.3 258.9h0M551.1 309.2h0M538.9 265.0h0M566.6 281.8h0M537.0 313.2h0M523.0 311.4h0M568.3 283.1h0M521.9 228.2h0M525.7 240.0h0M539.9 250.1h0M528.9 242.0h0M537.9 303.8h0M547.0 297.6h0M560.1 279.1h0M560.7 268.0h0M549.1 302.9h0M551.4 257.1h0M533.4 289.8h0M563.7 276.3h0M541.8 325.6h0M559.6 233.4h0M553.1 232.8h0M556.8 245.8h0M543.3 317.9h0M568.5 274.5h0M558.2 238.1h0M557.8 236.6h0M521.7 275.0h0M563.4 321.1h0M544.2 309.2h0M561.1 297.7h0M569.1 324.5h0M554.9 283.5h0M545.2 251.7h0M547.9 256.8h0M530.4 235.8h0M554.2 262.0h0M569.6 229.1h0M548.2 244.8h0M554.6 301.2h0M536.0 285.1h0M529.1 314.4h0M567.5 251.7h0M540.7 299.4h0M558.1 252.0h0M533.0 237.7h0M548.6 267.8h0M532.1 306.0h0M562.0 248.8h0M544.3 265.0h0M559.0 246.7h0M562.6 272.2h0M567.1 289.0h0M532.5 239.2h0M541.9 240.4h0M528.0 291.4h0M545.9 259.2h0M557.9 301.6h0M570.7 259.2h0M554.2 246.7h0M555.1 269.8h0M566.9 233.1h0M545.3 311.8h0M567.6 312.4h0M527.2 275.7h0M555.0 299.4h0M560.8 234.5h0M537.7 299.2h0M566.4 309.3h0M568.3 284.8h0M546.5 275.6h0M529.5 281.0h0M546.1 263.6h0M544.6 303.2h0M543.1 261.7h0M553.4 297.1h0M555.4 252.3h0M561.0 247.5h0M544.9 263.0h0M563.3 318.3h0M529.4 239.5h0M567.0 316.7h0M563.4 320.9h0M540.3 288.1h0M551.2 254.6h0M563.6 322.9h0M549.9 285.8h0M550.7 278.6h0M538.5 322.2h0M570.3 248.7h0M570.3 228.0h0M563.0 282.9h0M560.8 233.6h0M524.6 273.3h0M520.1 232.4h0M570.1 240.8h0M547.1 258.4h0M563.1 259.6h0M568.8 262.1h0M542.8 267.1h0M539.1 303.4h0M554.5 277.2h0M555.4 250.7h0M526.9 290.0h0M549.1 246.7h0M562.3 284.9h0M561.9 294.5h0M569.6 302.8h0M563.1 241.7h0M547.2 317.7h0M565.8 259.6h0M537.2 229.3h0M551.8 235.4h0M542.4 310.3h0M567.3 312.0h0M560.1 272.6h0M568.8 253.2h0M562.4 249.5h0M540.2 246.9h0M568.7 262.9h0M558.0 319.2h0M553.6 267.1h0M545.8 309.4h0M531.1 270.5h0M526.4 308.3h0M564.0 309.3h0M561.6 270.5h0M568.6 243.0h0M541.0 278.6h0M535.6 302.7h0M549.2 294.0h0M555.3 239.0h0M564.4 227.6h0M524.3 250.0h0M545.0 249.8h0M556.9 234.7h0M520.4 258.6h0M546.1 270.9h0M559.2 314.2h0M543.5 285.8h0M548.4 318.0h0M563.0 274.2h0M536.6 288.3h0M526.5 296.4h0M560.3 255.9h0M561.2 234.8h0M523.5 325.9h0M556.9 262.9h0M540.1 277.6h0M526.2 280.0h0M569.3 264.5h0M553.0 314.4h0M558.5 252.9h0M535.4 301.5h0M520.8 238.8h0M524.2 232.0h0M541.3 250.0h0M550.5 317.8h0M556.8 252.8h0M529.5 270.5h0M549.9 255.2h0M545.3 247.4h0M570.5 326.7h0M561.5 289.9h0M570.9 293.9h0M524.9 295.3h0M539.9 269.2h0M555.5 304.2h0M562.8 248.7h0M564.8 251.7h0M544.2 256.7h0M554.1 240.9h0M549.0 245.5h0M531.4 316.1h0M563.3 255.6h0M531.6 250.1h0M545.7 249.3h0M565.2 235.8h0M527.9 281.9h0M538.9 233.3h0M561.3 249.6h0M565.5 236.2h0M570.8 271.5h0M568.7 267.9h0M559.8 287.1h0M535.5 276.6h0M552.9 278.1h0M549.9 286.4h0M545.1 266.9h0M557.3 310.8h0M570.3 306.2h0M564.8 295.8h0M566.9 313.7h0M551.8 275.1h0M523.0 309.7h0M553.1 310.8h0M547.0 289.2h0M568.5 249.4h0M545.1 325.9h0M562.9 266.1h0M567.3 229.1h0M527.9 236.9h0M555.7 286.4h0M560.9 278.3h0M561.8 313.1h0M567.9 312.0h0M563.3 284.9h0M532.8 282.2h0M563.8 320.7h0M555.6 296.7h0M559.7 307.1h0M543.8 312.5h0M524.7 296.1h0M540.9 271.9h0M556.4 309.1h0M555.7 236.1h0M530.9 258.1h0M564.1 292.9h0M533.1 250.7h0M545.6 307.3h0M535.7 279.2h0M569.2 237.4h0M552.7 318.8h0M552.3 262.6h0M537.9 268.4h0M567.9 287.6h0M541.7 249.8h0M548.7 245.0h0M565.4 248.2h0M561.8 255.5h0M548.2 294.6h0M522.2 276.1h0M557.6 291.4h0M542.7 247.9h0M550.4 294.6h0M554.3 281.1h0M525.1 259.1h0M564.3 308.9h0M535.2 302.3h0M520.5 319.4h0M548.1 305.9h0M553.9 306.8h0M557.2 243.9h0M537.5 232.6h0M557.2 286.1h0M527.5 232.7h0M567.9 253.5h0M555.5 284.3h0M568.4 328.2h0M536.8 257.6h0M541.9 321.7h0M562.6 256.3h0M565.9 252.2h0M526.0 262.8h0M559.5 302.4h0M566.8 309.8h0M544.3 258.6h0M565.2 289.5h0M567.2 320.5h0M555.7 248.4h0M562.5 260.9h0M553.9 243.3h0M556.3 226.6h0M528.9 310.2h0M551.8 317.6h0M567.5 259.5h0M565.4 244.2h0M568.0 235.0h0M559.5 305.2h0M560.0 302.3h0M535.4 282.5h0M568.3 328.2h0M555.9 302.8h0M550.3 312.4h0M557.7 245.3h0M565.8 295.8h0M520.2 268.5h0M570.9 233.6h0M562.9 303.2h0M555.5 276.7h0M564.8 299.4h0M558.7 255.5h0M559.6 240.6h0M526.0 245.3h0M556.9 304.7h0M559.8 279.3h0M567.0 294.0h0M549.2 236.3h0M538.4 265.4h0M542.9 287.7h0M567.9 253.7h0M562.7 248.8h0M555.6 310.4h0M564.0 317.2h0M543.4 238.1h0M567.6 290.4h0M550.0 268.7h0M567.4 303.1h0M529.3 301.9h0M550.9 234.3h0M551.8 292.8h0M565.9 279.2h0M566.3 240.4h0M540.2 306.3h0M554.8 264.3h0M555.6 273.1h0M530.6 241.7h0M554.8 282.3h0M556.2 270.1h0M548.1 258.3h0M534.9 253.1h0M560.3 309.5h0" stroke="#000" stroke-width="4.3" stroke-linecap="round" fill="none"/>
<circle cx="231.1" cy="356.9" r="5.4" fill="none" stroke="#b286ff" stroke-width="1.5"/>
<circle cx="231.1" cy="356.9" r="0.6" fill="#b286ff"/>
<circle cx="312.0" cy="322.1" r="5.4" fill="none" stroke="#b286ff" stroke-width="1.5"/>
<circle cx="312.0" cy="322.1" r="0.6" fill="#b286ff"/>
<circle cx="400.6" cy="282.7" r="5.4" fill="none" stroke="#b286ff" stroke-width="1.5"/>
<circle cx="400.6" cy="282.7" r="0.6" fill="#b286ff"/>
<path d="M64.7 268.1l10.6 10.6M64.7 278.7l10.6 -10.6M306.7 316.8l10.6 10.6M306.7 327.4l10.6 -10.6M424.3 279.8l10.6 10.6M424.3 290.4l10.6 -10.6M427.7 325.8l10.6 10.6M427.7 336.4l10.6 -10.6" stroke="#ff0000" stroke-width="1.6" fill="none"/>
<path d="M52.64 380.3v-2.8M52.64 64.7v2.8M77.29 380.3v-2.8M77.29 64.7v2.8M89.00 380.3v-5.5M89.00 64.7v5.5M125.36 380.3v-2.8M125.36 64.7v2.8M173.44 380.3v-2.8M173.44 64.7v2.8M198.09 380.3v-2.8M198.09 64.7v2.8M209.80 380.3v-5.5M209.80 64.7v5.5M246.16 380.3v-2.8M246.16 64.7v2.8M294.24 380.3v-2.8M294.24 64.7v2.8M318.89 380.3v-2.8M318.89 64.7v2.8M330.60 380.3v-5.5M330.60 64.7v5.5M366.96 380.3v-2.8M366.96 64.7v2.8M415.04 380.3v-2.8M415.04 64.7v2.8M439.69 380.3v-2.8M439.69 64.7v2.8M451.40 380.3v-5.5M451.40 64.7v5.5M487.76 380.3v-2.8M487.76 64.7v2.8M535.84 380.3v-2.8M535.84 64.7v2.8M560.49 380.3v-2.8M560.49 64.7v2.8M572.20 380.3v-5.5M572.20 64.7v5.5M52.4 380.51h2.8M572.5 380.51h-2.8M52.4 374.22h2.8M572.5 374.22h-2.8M52.4 368.60h5.5M572.5 368.60h-5.5M52.4 331.62h2.8M572.5 331.62h-2.8M52.4 309.99h2.8M572.5 309.99h-2.8M52.4 294.64h2.8M572.5 294.64h-2.8M52.4 282.73h2.8M572.5 282.73h-2.8M52.4 273.00h2.8M572.5 273.00h-2.8M52.4 264.78h2.8M572.5 264.78h-2.8M52.4 257.66h2.8M572.5 257.66h-2.8M52.4 251.37h2.8M572.5 251.37h-2.8M52.4 245.75h5.5M572.5 245.75h-5.5M52.4 208.77h2.8M572.5 208.77h-2.8M52.4 187.14h2.8M572.5 187.14h-2.8M52.4 171.79h2.8M572.5 171.79h-2.8M52.4 159.88h2.8M572.5 159.88h-2.8M52.4 150.15h2.8M572.5 150.15h-2.8M52.4 141.93h2.8M572.5 141.93h-2.8M52.4 134.81h2.8M572.5 134.81h-2.8M52.4 128.52h2.8M572.5 128.52h-2.8M52.4 122.90h5.5M572.5 122.90h-5.5M52.4 85.92h2.8M572.5 85.92h-2.8M52.4 64.29h2.8M572.5 64.29h-2.8" stroke="#000" stroke-width="1" fill="none"/>
<rect x="52.4" y="64.7" width="520.1" height="315.6" fill="none" stroke="#000" stroke-width="1.2"/>
<text text-anchor="middle" transform="translate(90.4 395.9) scale(0.91 1)" style="font-size:11.66px">10</text>
<text text-anchor="middle" transform="translate(211.2 395.9) scale(0.91 1)" style="font-size:11.66px">100</text>
<text text-anchor="middle" transform="translate(332.0 395.9) scale(0.91 1)" style="font-size:11.66px">1000</text>
<text text-anchor="middle" transform="translate(452.8 395.9) scale(0.91 1)" style="font-size:11.66px">10000</text>
<text text-anchor="middle" transform="translate(574.4 395.9) scale(0.91 1)" style="font-size:11.66px">100000</text>
<text text-anchor="end" transform="translate(45.5 127.1) scale(0.91 1)" style="font-size:11.66px">1</text>
<text text-anchor="end" transform="translate(45.5 249.9) scale(0.91 1)" style="font-size:11.66px">0.1</text>
<text text-anchor="end" transform="translate(45.5 372.8) scale(0.91 1)" style="font-size:11.66px">0.01</text>
<text text-anchor="middle" transform="translate(312.9 409.8) scale(0.93 1)" style="font-size:11.50px">Projected nuclear separation (pc)</text>
<text text-anchor="middle" transform="translate(12.3 222.4) rotate(-90) scale(1.055 1)" style="font-size:9.80px">Redshift</text>
<rect x="71.6" y="150.3" width="159.4" height="32.1" fill="#fff" stroke="#000" stroke-width="1"/>
<circle cx="94.1" cy="156" r="1.9" fill="#000"/>
<circle cx="94.1" cy="166.5" r="5.4" fill="none" stroke="#b286ff" stroke-width="1.5"/><circle cx="94.1" cy="166.5" r="0.6" fill="#b286ff"/>
<path d="M88.8 172l10.6 10.6M88.8 182.6l10.6 -10.6" stroke="#f00" stroke-width="1.6" clip-path="url(#c)"/>
<text transform="translate(116.0 159.7) scale(0.91 1)" style="font-size:11.88px">Optical Discovery</text>
<text transform="translate(116.0 170.0) scale(0.91 1)" style="font-size:11.88px">X-ray discovery</text>
<text transform="translate(116.0 180.5) scale(0.91 1)" style="font-size:11.88px">Radio discovery</text>
<text class="r" transform="translate(83.9 143.5) rotate(-73) scale(1.0 1)" style="font-size:10.30px">1 mas</text>
<text class="r" transform="translate(361.0 142.9) rotate(-75) scale(1.0 1)" style="font-size:10.30px">A, X-band</text>
<text class="r" transform="translate(386.2 142.9) rotate(-75) scale(1.0 1)" style="font-size:10.30px">A, C-band</text>
<text class="r" transform="translate(423.1 142.9) rotate(-75) scale(1.0 1)" style="font-size:10.30px">A, S-band</text>
<text class="r" transform="translate(445.9 142.9) rotate(-75) scale(1.0 1)" style="font-size:10.30px">B, C-band</text>
<text class="r" transform="translate(485.1 142.7) rotate(-75) scale(1.0 1)" style="font-size:10.30px">B, S-band</text>
<text class="r" transform="translate(522.5 142.7) rotate(-75) scale(1.0 1)" style="font-size:10.30px">B, L-band</text>
<text class="b" transform="translate(244.4 171.7) rotate(-90) scale(0.91 1)" style="font-size:10.12px">Binary formation</text>
<text class="b" transform="translate(413.7 379.6) rotate(-90) scale(0.91 1)" style="font-size:10.12px">Approximate</text>
<text class="b" transform="translate(423.0 379.6) rotate(-90) scale(0.91 1)" style="font-size:10.12px">galactic virial</text>
<text class="b" transform="translate(431.0 379.6) rotate(-90) scale(0.91 1)" style="font-size:10.12px">radius</text>
</g>
</svg></body></html>
